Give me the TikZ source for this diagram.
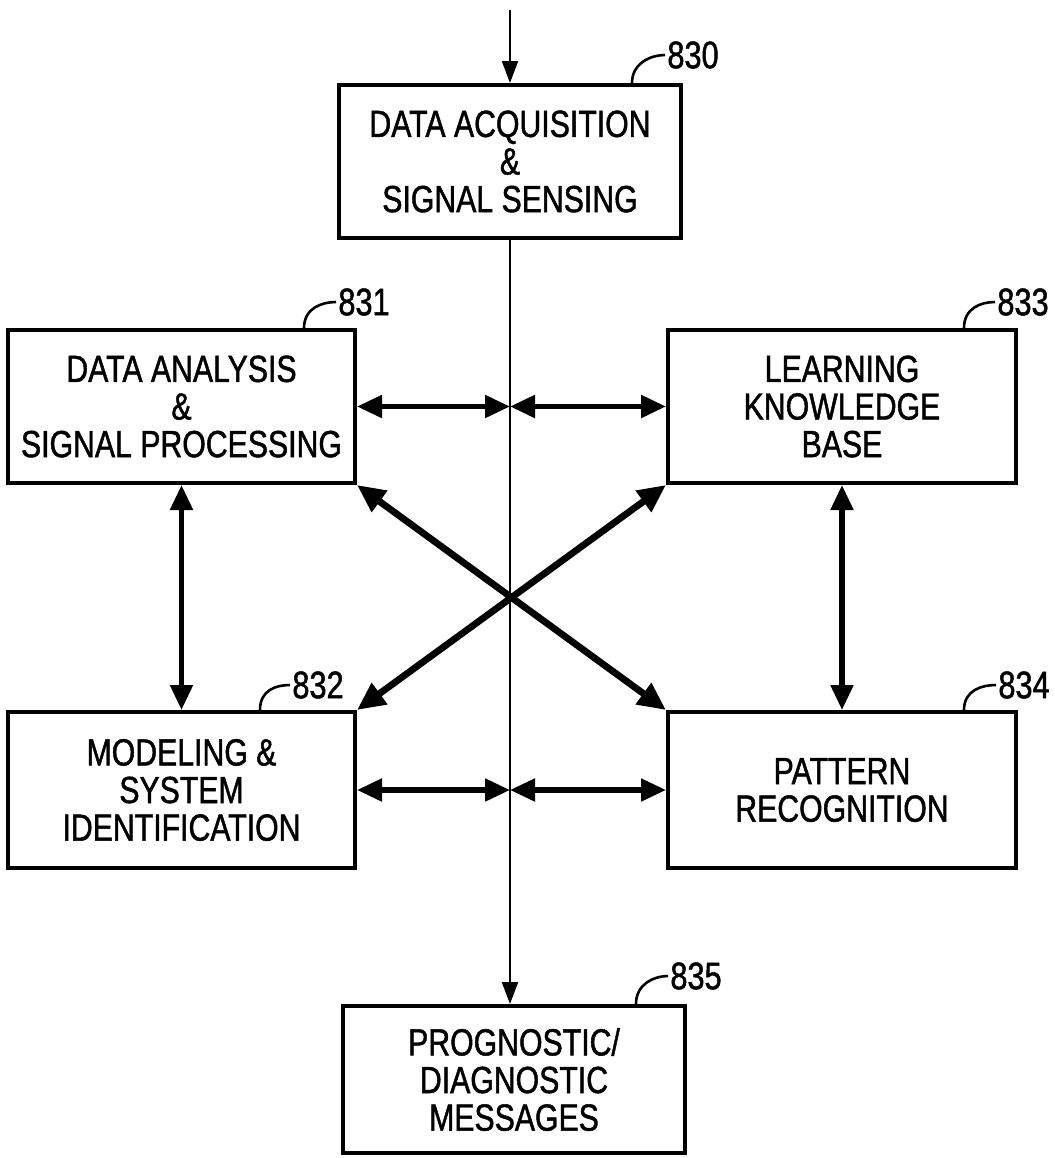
\documentclass[tikz,border=0pt]{standalone}
\usepackage{fontspec}
\setmainfont{Liberation Sans}[FakeStretch=0.8,FakeBold=1.2]
\usetikzlibrary{arrows.meta,calc}

\begin{document}
\begin{tikzpicture}[x=0.5pt,y=-0.5pt,
  box/.style={draw, line width=2pt, align=center, inner sep=0pt,
    font=\fontsize{18.9}{18.8}\selectfont},
  refnum/.style={anchor=west, inner sep=1pt, font=\fontsize{19.2}{18.8}\selectfont},
  leader/.style={line width=1.3pt},
  feed/.style={line width=1.1pt, -{Triangle[length=11pt,width=8pt]}},
  link/.style={line width=2.6pt,
    {Triangle[length=12.5pt,width=11pt]}-{Triangle[length=12.5pt,width=11pt]}},
  diag/.style={line width=3.4pt,
    {Triangle[length=14pt,width=12.5pt]}-{Triangle[length=14pt,width=12.5pt]}}]
\useasboundingbox (0,0) rectangle (1055,1158);

% blocks
\node[box, minimum width=171pt, minimum height=76.5pt] (acq) at (510,161.5)
  {DATA ACQUISITION\\\&\\SIGNAL SENSING};
\node[box, minimum width=173.5pt, minimum height=76.5pt] (ana) at (181.5,406.5)
  {DATA ANALYSIS\\\&\\SIGNAL PROCESSING};
\node[box, minimum width=174pt, minimum height=76.5pt] (lrn) at (842,406.5)
  {LEARNING\\KNOWLEDGE\\BASE};
\node[box, minimum width=173.5pt, minimum height=78pt] (mod) at (181.5,790)
  {MODELING \&\\SYSTEM\\IDENTIFICATION};
\node[box, minimum width=174pt, minimum height=78pt] (pat) at (842,790)
  {PATTERN\\RECOGNITION};
\node[box, minimum width=171pt, minimum height=73.5pt] (msg) at (514,1079.5)
  {PROGNOSTIC/\\DIAGNOSTIC\\MESSAGES};

% reference numerals with curved leaders
\node[refnum] (n830) at (665,55) {830};
\node[refnum] (n831) at (336,302) {831};
\node[refnum] (n833) at (995,302) {833};
\node[refnum] (n832) at (290,685) {832};
\node[refnum] (n834) at (996,685) {834};
\node[refnum] (n835) at (668,976) {835};

\draw[leader] ($(acq.north east)+(-51,0)$) .. controls +(0,-20) and +(-14,0) .. (n830.west);
\draw[leader] ($(ana.north east)+(-53,0)$) .. controls +(0,-20) and +(-14,0) .. (n831.west);
\draw[leader] ($(lrn.north east)+(-54,0)$) .. controls +(0,-20) and +(-14,0) .. (n833.west);
\draw[leader] ($(mod.north east)+(-97,0)$) .. controls +(0,-20) and +(-14,0) .. (n832.west);
\draw[leader] ($(pat.north east)+(-54,0)$) .. controls +(0,-20) and +(-14,0) .. (n834.west);
\draw[leader] ($(msg.north east)+(-51,0)$) .. controls +(0,-20) and +(-14,0) .. (n835.west);

% main signal path
\coordinate (src) at (510,10);
\coordinate (ju) at (acq.south |- ana.east);
\coordinate (jl) at (acq.south |- mod.east);
\draw[feed] (src) -- (acq.north);
\draw[feed] (acq.south) -- (acq.south |- msg.north);

% exchanges between the processing blocks
\draw[link] (ana.east) -- (ju);
\draw[link] (ju) -- (lrn.west);
\draw[link] (mod.east) -- (jl);
\draw[link] (jl) -- (pat.west);
\draw[link] (ana.south) -- (mod.north);
\draw[link] (lrn.south) -- (pat.north);
\draw[diag] (ana.south east) -- (pat.north west);
\draw[diag] (lrn.south west) -- (mod.north east);
\end{tikzpicture}
\end{document}
